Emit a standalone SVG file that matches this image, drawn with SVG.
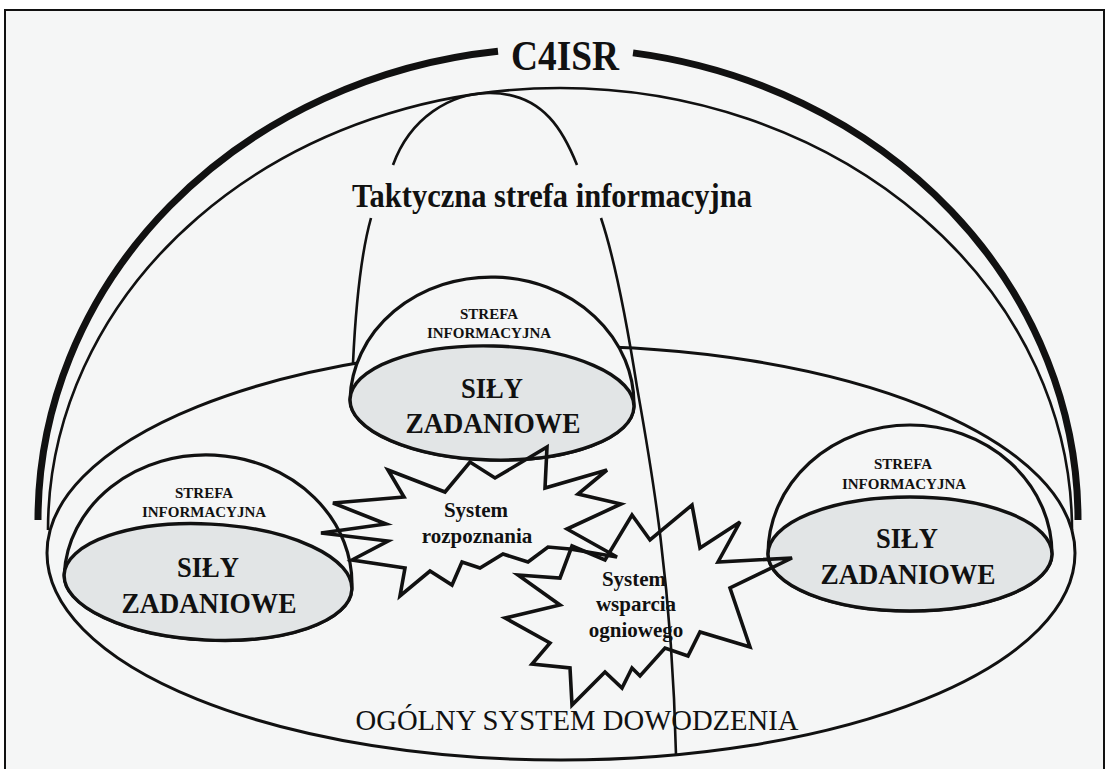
<svg xmlns="http://www.w3.org/2000/svg" width="1109" height="769" viewBox="0 0 1109 769">
<style>
.ln{fill:none;stroke:#111;stroke-width:3}
.thin{fill:none;stroke:#111;stroke-width:2.6}
.thick{fill:none;stroke:#111;stroke-width:7}
.dome{fill:#f5f6f6;stroke:#111;stroke-width:3.2}
.core{fill:#e2e5e6;stroke:#111;stroke-width:3.4}
.star{fill:none;stroke:#111;stroke-width:3.6;stroke-linejoin:miter}
text{font-family:"Liberation Serif","Times New Roman",serif;fill:#111;text-anchor:middle}
.b{font-weight:bold}
.sm{font-size:15px;font-weight:bold}
.big{font-size:29px;font-weight:bold}
.st{font-size:21px;font-weight:bold}
</style>
<rect x="0" y="0" width="1109" height="769" fill="#ffffff"/>
<rect x="5" y="10" width="1099" height="775" fill="#f5f6f6" stroke="#111" stroke-width="2"/>

<g id="c4isr">
<path class="thick" d="M38,520 A520,472 0 0 1 498,51.2"/>
<path class="thick" d="M633,52.9 A520,472 0 0 1 1078,520"/>
<text class="b" x="565" y="70" font-size="42" textLength="108" lengthAdjust="spacingAndGlyphs">C4ISR</text>
</g>

<g id="inner-arc">
<path class="thin" d="M48,530 A512,442 0 0 1 1072,530"/>
</g>

<g id="command-system">
<ellipse class="ln" cx="561" cy="553" rx="514" ry="207"/>
<text x="577" y="730" font-size="30" textLength="443" lengthAdjust="spacingAndGlyphs">OGÓLNY SYSTEM DOWODZENIA</text>
</g>

<g id="tactical-zone">
<path class="thin" d="M353,363 C356,300 362,250 371,218"/>
<path class="thin" d="M393,165 C410,118 450,93 490,93 C545,93 565,135 577,165"/>
<path class="thin" d="M601,218 C615,260 628,330 637,387 C650,460 672,580 676,755"/>
<text class="b" x="552" y="207" font-size="34" textLength="400" lengthAdjust="spacingAndGlyphs">Taktyczna strefa informacyjna</text>
</g>

<g id="dome-center">
<g transform="rotate(1.5,492,403)">
<path class="dome" d="M350,403 A142,126 0 0 1 634,403 A142,57 0 0 1 350,403 Z"/>
<ellipse class="core" cx="492" cy="403" rx="142" ry="57"/>
</g>
<text class="sm" x="489" y="319">STREFA</text>
<text class="sm" x="489" y="338">INFORMACYJNA</text>
<text class="big" x="492" y="398" textLength="62" lengthAdjust="spacingAndGlyphs">SIŁY</text>
<text class="big" x="493" y="433" textLength="175" lengthAdjust="spacingAndGlyphs">ZADANIOWE</text>
</g>

<g id="dome-left">
<g transform="rotate(3,208,582)">
<path class="dome" d="M64,582 A144,127 0 0 1 352,582 A144,58 0 0 1 64,582 Z"/>
<ellipse class="core" cx="208" cy="582" rx="144" ry="58"/>
</g>
<text class="sm" x="204" y="498">STREFA</text>
<text class="sm" x="204" y="517">INFORMACYJNA</text>
<text class="big" x="208" y="577" textLength="62" lengthAdjust="spacingAndGlyphs">SIŁY</text>
<text class="big" x="209" y="613" textLength="175" lengthAdjust="spacingAndGlyphs">ZADANIOWE</text>
</g>

<g id="dome-right">
<path class="dome" d="M768,554 A142,129 0 0 1 1052,554 A142,57 0 0 1 768,554 Z"/>
<ellipse class="core" cx="910" cy="554" rx="142" ry="57"/>
<text class="sm" x="903" y="469">STREFA</text>
<text class="sm" x="904" y="489">INFORMACYJNA</text>
<text class="big" x="907" y="548" textLength="62" lengthAdjust="spacingAndGlyphs">SIŁY</text>
<text class="big" x="908" y="584" textLength="175" lengthAdjust="spacingAndGlyphs">ZADANIOWE</text>
</g>

<g id="recon">
<path class="star" d="M388,470 L445,492 L470,462 L495,478 L547,447 L545,488 L607,470 L578,494 L621,504 L567,529 L617,557 L570,549 L548,547 L528,562 L503,554 L480,568 L462,562 L452,585 L430,571 L400,596 L405,568 L352,560 L388,541 L321,533 L386,524 L333,503 L404,497 Z"/>
<text class="st" x="476" y="517">System</text>
<text class="st" x="477" y="543">rozpoznania</text>
</g>

<g id="fire-support">
<path class="star" d="M518,575 L560,578 L572,546 L605,560 L632,515 L650,540 L692,505 L700,548 L740,522 L718,562 L792,558 L730,588 L750,647 L700,632 L688,656 L665,648 L640,676 L632,668 L622,688 L605,672 L572,705 L570,668 L532,664 L550,643 L505,618 L560,605 Z"/>
<text class="st" x="634" y="586">System</text>
<text class="st" x="636" y="611">wsparcia</text>
<text class="st" x="636" y="637">ogniowego</text>
</g>

<g id="connectors"/>
</svg>
